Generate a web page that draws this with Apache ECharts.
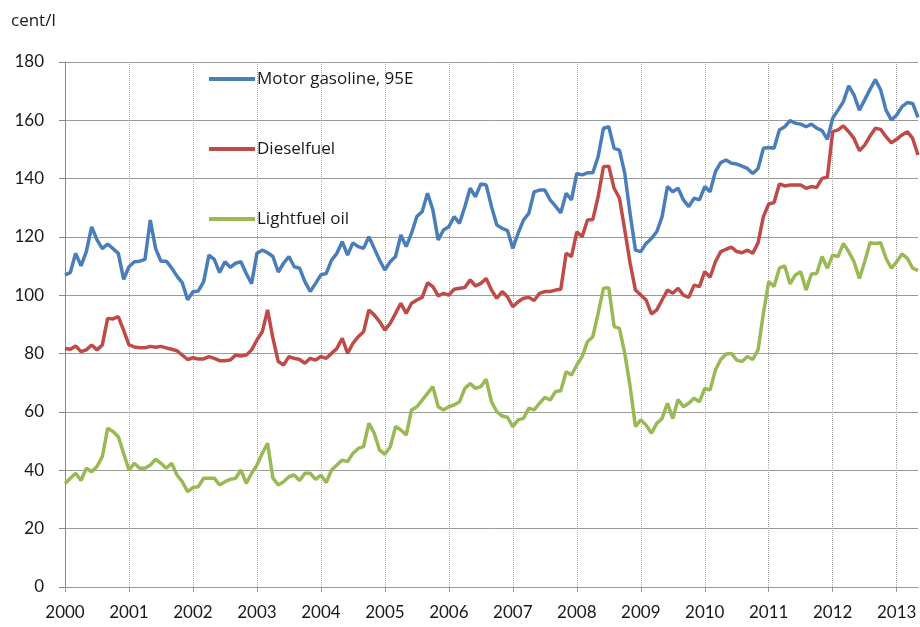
<!DOCTYPE html>
<html>
<head>
<meta charset="utf-8">
<script src="https://cdn.jsdelivr.net/npm/echarts@6/dist/echarts.min.js"></script>
<style>
  html, body { margin: 0; padding: 0; background: #fff; }
  #chart { width: 920px; height: 627px; }
</style>
</head>
<body>
<div id="chart"></div>
<script>
// monthly prices, cent/l, Jan 2000 - May 2013
const years = ['2000', '2001', '2002', '2003', '2004', '2005', '2006', '2007', '2008', '2009', '2010', '2011', '2012', '2013'];
const monthsIn2013 = 5;

const gasoline95 = [
  107.0, 107.8, 114.4, 110.1, 115.0, 123.5, 119.0, 116.0, 117.6, 116.0, 114.4, 105.5,
  109.8, 111.5, 111.7, 112.3, 125.8, 116.0, 111.7, 111.7, 109.4, 106.6, 104.3, 98.5,
  101.2, 101.5, 104.6, 113.8, 112.3, 107.8, 111.5, 109.6, 111.0, 111.5, 107.5, 104.0,
  114.4, 115.5, 114.6, 113.3, 108.0, 111.0, 113.3, 109.8, 109.3, 104.7, 101.3, 104.1,
  107.0, 107.5, 112.1, 114.4, 118.4, 113.8, 118.0, 116.7, 116.1, 120.1, 116.1, 112.1,
  108.7, 111.5, 113.3, 120.7, 116.7, 121.3, 127.0, 128.7, 135.0, 129.3, 119.0, 122.4,
  123.5, 127.0, 124.7, 130.4, 136.7, 133.8, 138.2, 137.8, 130.4, 124.1, 123.0, 122.2,
  116.1, 121.3, 125.8, 128.1, 135.5, 136.1, 136.1, 132.7, 130.6, 128.3, 135.0, 132.7,
  141.8, 141.3, 142.0, 142.0, 147.5, 157.3, 157.8, 150.4, 149.8, 141.8, 128.0, 115.5,
  115.0, 117.8, 119.5, 121.8, 127.0, 137.3, 135.5, 136.7, 132.7, 130.4, 133.3, 132.7,
  137.3, 135.5, 142.4, 145.5, 146.4, 145.3, 145.0, 144.3, 143.5, 141.8, 143.5, 150.4,
  150.7, 150.4, 156.7, 157.8, 159.9, 159.0, 158.7, 157.8, 158.7, 157.3, 156.5, 153.5,
  160.7, 163.5, 166.4, 171.8, 168.7, 163.5, 167.0, 170.6, 174.0, 170.4, 163.5, 160.1,
  161.8, 164.7, 166.1, 165.8, 161.0
];

const dieselFuel = [
  81.8, 81.5, 82.6, 80.7, 81.3, 83.0, 81.3, 83.0, 92.1, 91.9, 92.7, 88.0,
  83.0, 82.3, 82.0, 82.0, 82.5, 82.2, 82.5, 82.0, 81.5, 81.0, 79.5, 78.0,
  78.6, 78.2, 78.2, 79.0, 78.4, 77.6, 77.6, 77.8, 79.5, 79.2, 79.5, 81.3,
  84.7, 87.5, 95.0, 85.3, 77.3, 76.1, 79.0, 78.4, 78.0, 76.7, 78.4, 77.8,
  79.0, 78.4, 80.1, 81.8, 85.3, 80.1, 83.5, 85.8, 87.5, 95.0, 93.3, 91.0,
  88.1, 90.4, 93.8, 97.3, 93.8, 97.3, 98.4, 99.3, 104.3, 103.0, 99.8, 100.7,
  100.1, 102.1, 102.4, 102.7, 105.3, 103.2, 104.1, 105.8, 101.8, 99.0, 101.3, 99.5,
  96.1, 97.8, 99.0, 99.3, 98.2, 100.7, 101.3, 101.3, 101.8, 102.1, 114.4, 113.3,
  121.8, 120.1, 125.8, 126.0, 133.8, 144.1, 144.3, 136.7, 133.3, 122.4, 111.0, 101.8,
  100.1, 98.4, 93.6, 95.0, 98.4, 101.8, 100.7, 102.4, 100.1, 99.3, 103.5, 103.0,
  108.1, 106.2, 111.5, 115.0, 115.8, 116.5, 115.0, 114.6, 115.5, 114.4, 118.0, 127.0,
  131.3, 131.8, 138.2, 137.5, 137.8, 137.8, 137.8, 136.7, 137.3, 137.0, 140.1, 140.5,
  156.1, 156.7, 158.1, 156.1, 153.8, 149.6, 151.5, 154.6, 157.3, 156.9, 154.4, 152.3,
  153.5, 155.0, 156.1, 153.8, 148.1
];

const lightFuelOil = [
  35.5, 37.3, 39.0, 36.5, 40.7, 39.5, 41.3, 44.7, 54.4, 53.3, 51.5, 45.8,
  40.1, 42.4, 40.7, 40.7, 41.8, 43.8, 42.4, 40.7, 42.4, 38.4, 36.1, 32.7,
  34.1, 34.4, 37.3, 37.3, 37.3, 35.0, 36.1, 36.9, 37.3, 40.1, 35.5, 39.0,
  41.8, 45.8, 49.3, 37.3, 35.0, 36.1, 37.8, 38.4, 36.5, 39.0, 39.0, 36.9,
  38.4, 35.8, 40.1, 41.8, 43.5, 43.0, 45.8, 47.5, 48.1, 56.1, 52.7, 47.0,
  45.5, 48.0, 55.0, 53.8, 52.1, 60.7, 61.8, 64.1, 66.4, 68.7, 61.8, 60.7,
  61.8, 62.4, 63.5, 68.1, 69.8, 68.1, 68.7, 71.2, 63.5, 60.1, 58.6, 58.2,
  55.0, 57.3, 57.8, 61.3, 60.7, 63.0, 65.0, 64.1, 67.0, 67.3, 73.8, 72.7,
  76.1, 79.0, 84.1, 85.8, 93.8, 102.4, 102.6, 89.3, 88.7, 80.1, 68.7, 55.0,
  57.3, 55.5, 52.7, 56.1, 57.8, 63.0, 57.8, 64.3, 61.8, 63.0, 64.7, 63.5,
  68.1, 67.5, 74.4, 78.0, 79.9, 80.1, 77.8, 77.3, 79.0, 78.0, 81.3, 93.8,
  104.7, 103.0, 109.3, 110.1, 103.9, 107.0, 108.1, 101.8, 107.3, 107.5, 113.3, 109.3,
  113.8, 113.3, 117.8, 115.0, 111.5, 105.8, 111.5, 118.0, 117.8, 118.0, 112.7, 109.3,
  111.5, 114.2, 112.7, 109.3, 108.5
];

// month categories built from the year list
let months = [];
years.forEach(function (y, i) {
  let n = i === years.length - 1 ? monthsIn2013 : 12;
  for (let m = 1; m <= n; m++) {
    months.push(y + '-' + (m < 10 ? '0' + m : m));
  }
});

const yearStart = function (index) { return index % 12 === 0; };
const fontName = 'Lato';
const legendFont = 'Open Sans';

let chart = echarts.init(document.getElementById('chart'), null, { renderer: 'canvas' });

let options = {
  animation: false,
  color: ['#4a7ebb', '#be4b48', '#98b954'],
  textStyle: { fontFamily: fontName },
  title: {
    text: 'cent/l',
    left: 6,
    top: 8,
    textStyle: { fontFamily: legendFont, fontSize: 17, fontWeight: 'normal', color: '#1a1a1a' }
  },
  legend: {
    orient: 'vertical',
    left: 204,
    top: 64,
    icon: 'rect',
    itemWidth: 46,
    itemHeight: 4,
    itemGap: 50,
    textStyle: { fontFamily: legendFont, fontSize: 17, color: '#1a1a1a', lineHeight: 20, padding: [0, 0, 0, -3] },
    data: ['Motor gasoline, 95E', 'Dieselfuel', 'Lightfuel oil']
  },
  grid: {
    left: 65,
    right: 2,
    top: 62,
    bottom: 40,
    containLabel: false
  },
  xAxis: {
    type: 'category',
    boundaryGap: false,
    data: months,
    axisLine: { lineStyle: { color: '#999', type: 'dashed', width: 1 } },
    axisTick: { show: true, interval: yearStart, length: 5, lineStyle: { color: '#999' } },
    axisLabel: {
      interval: yearStart,
      margin: 17,
      fontSize: 17,
      color: '#1a1a1a',
      fontFamily: fontName,
      formatter: function (v) { return v.slice(0, 4); }
    },
    splitLine: {
      show: true,
      interval: yearStart,
      lineStyle: { color: '#aaa', type: 'dotted', width: 1 }
    }
  },
  yAxis: {
    type: 'value',
    min: 0,
    max: 180,
    interval: 20,
    axisLine: { show: true, lineStyle: { color: '#888' } },
    axisTick: { show: true, length: 6, lineStyle: { color: '#888' } },
    axisLabel: { margin: 21, fontSize: 17, color: '#1a1a1a', fontFamily: fontName },
    splitLine: { lineStyle: { color: '#9a9a9a', width: 1 } }
  },
  series: [
    { name: 'Motor gasoline, 95E', type: 'line', data: gasoline95, showSymbol: false, lineStyle: { width: 3.5 } },
    { name: 'Dieselfuel', type: 'line', data: dieselFuel, showSymbol: false, lineStyle: { width: 3.5 } },
    { name: 'Lightfuel oil', type: 'line', data: lightFuelOil, showSymbol: false, lineStyle: { width: 3.5 } }
  ]
};

chart.setOption(options);
</script>
</body>
</html>
